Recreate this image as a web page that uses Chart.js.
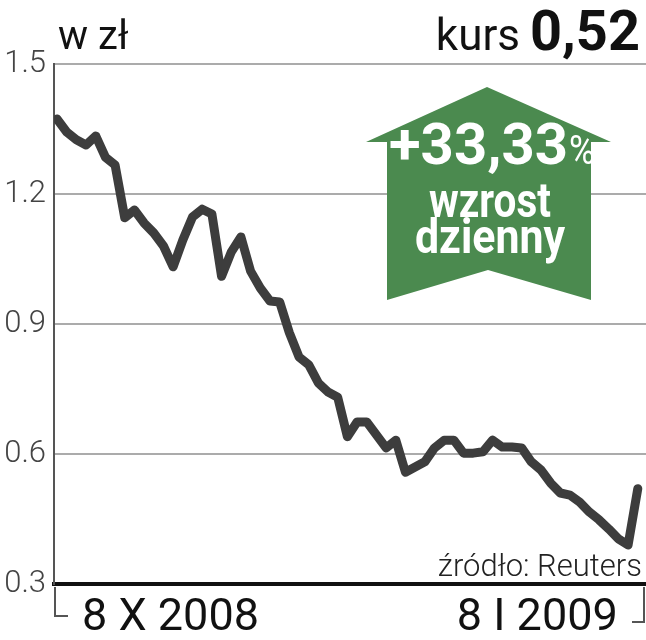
<!DOCTYPE html>
<html>
<head>
<meta charset="utf-8">
<script src="https://cdn.jsdelivr.net/npm/chart.js@4"></script>
<style>
  html, body { margin: 0; padding: 0; background: #fff; }
  #wrap { width: 646px; height: 640px; }
</style>
</head>
<body>
<div id="wrap"><canvas id="chart" width="646" height="640"></canvas></div>
<script>
// ----- Dane -----
const values = [
  1.373, 1.343, 1.325, 1.313, 1.334, 1.285, 1.267, 1.145, 1.163, 1.133,
  1.110, 1.080, 1.032, 1.094, 1.147, 1.165, 1.154, 1.010, 1.066, 1.101,
  1.022, 0.983, 0.953, 0.951, 0.880, 0.824, 0.806, 0.764, 0.743, 0.731,
  0.640, 0.674, 0.674, 0.644, 0.614, 0.632, 0.558, 0.570, 0.582, 0.614,
  0.632, 0.632, 0.602, 0.602, 0.605, 0.632, 0.616, 0.616, 0.614, 0.582,
  0.563, 0.533, 0.510, 0.505, 0.489, 0.466, 0.448, 0.427, 0.404, 0.390,
  0.520
];
const yTicks = [0.3, 0.6, 0.9, 1.2, 1.5];
const dateLabels = ['8 X 2008', '8 I 2009'];
const unitLabel = 'w zł';
const priceLabel = 'kurs';
const priceValue = '0,52';
const changeValue = '+33,33';
const changeText = ['wzrost', 'dzienny'];
const sourceText = 'źródło: Reuters';

const FONT = 'Roboto, "Liberation Sans", sans-serif';

// texte avec condensation horizontale optionnelle
function txt(ctx, s, x, y, font, color, align, maxW) {
  ctx.font = font;
  ctx.fillStyle = color;
  ctx.textAlign = align;
  ctx.textBaseline = 'alphabetic';
  if (maxW) ctx.fillText(s, x, y, maxW); else ctx.fillText(s, x, y);
}

const decor = {
  id: 'decor',
  afterDraw(chart) {
    const ctx = chart.ctx;
    const xs = chart.scales.x;
    const x0 = xs.getPixelForValue(0);
    const x1 = xs.getPixelForValue(values.length - 1);
    const left = chart.chartArea.left;
    const bottom = chart.chartArea.bottom;
    ctx.save();

    // titres
    txt(ctx, unitLabel, 58, 49, '400 40px ' + FONT, '#111', 'left');
    txt(ctx, priceValue, 640, 50, '700 56px ' + FONT, '#111', 'right', 110);
    txt(ctx, priceLabel, 520, 50, '400 44px ' + FONT, '#111', 'right', 86);

    // flèche verte
    ctx.fillStyle = '#4b8a4f';
    ctx.beginPath();
    ctx.moveTo(487, 87);
    ctx.lineTo(611, 142);
    ctx.lineTo(591, 142);
    ctx.lineTo(591, 300);
    ctx.lineTo(488, 270);
    ctx.lineTo(387, 300);
    ctx.lineTo(387, 142);
    ctx.lineTo(366, 142);
    ctx.closePath();
    ctx.fill();

    txt(ctx, changeValue, 568, 164, '700 58px ' + FONT, '#fff', 'right', 182);
    txt(ctx, '%', 569, 164, '400 40px ' + FONT, '#fff', 'left', 26);
    txt(ctx, changeText[0], 490, 217, '700 48px ' + FONT, '#fff', 'center', 122);
    txt(ctx, changeText[1], 490, 253, '700 48px ' + FONT, '#fff', 'center', 150);

    // source
    txt(ctx, sourceText, 642, 576, '300 31px ' + FONT, '#222', 'right');

    // dates + crochets
    ctx.strokeStyle = '#555';
    ctx.lineWidth = 2;
    ctx.beginPath();
    ctx.moveTo(left + 1, bottom + 3);
    ctx.lineTo(left + 1, bottom + 32);
    ctx.lineTo(left + 14, bottom + 32);
    ctx.moveTo(644, bottom + 3);
    ctx.lineTo(644, bottom + 38);
    ctx.lineTo(632, bottom + 38);
    ctx.stroke();
    txt(ctx, dateLabels[0], x0 + 25, 630, '400 45px ' + FONT, '#111', 'left');
    txt(ctx, dateLabels[1], x1 - 20, 630, '400 45px ' + FONT, '#111', 'right');

    ctx.restore();
  }
};

const ctx = document.getElementById('chart').getContext('2d');
new Chart(ctx, {
  type: 'line',
  data: {
    datasets: [{
      data: values.map((v, i) => ({ x: i, y: v })),
      borderColor: '#3d3d3d',
      borderWidth: 9,
      borderJoinStyle: 'round',
      borderCapStyle: 'round',
      pointRadius: 0,
      tension: 0,
      fill: false
    }]
  },
  options: {
    responsive: false,
    animation: false,
    devicePixelRatio: 1,
    layout: { padding: { top: 64, bottom: 56, left: 0, right: 0 } },
    plugins: { legend: { display: false }, tooltip: { enabled: false } },
    scales: {
      x: {
        type: 'linear',
        min: -0.31,
        max: 60.85,
        ticks: { display: false },
        grid: { display: false, drawTicks: false },
        border: { display: true, color: '#111', width: 4 }
      },
      y: {
        min: 0.3,
        max: 1.5,
        afterBuildTicks: (s) => { s.ticks = yTicks.map(v => ({ value: v })); },
        afterFit: (s) => { s.width = 54; },
        ticks: {
          padding: 8,
          color: '#444',
          font: { family: FONT, size: 31, weight: '300' },
          callback: (v) => Number(v).toFixed(1)
        },
        grid: {
          drawTicks: false,
          lineWidth: 2,
          color: (c) => (c.tick && c.tick.value === 0.3) ? 'rgba(0,0,0,0)' : '#ababab'
        },
        border: { display: true, color: '#555', width: 2 }
      }
    }
  },
  plugins: [decor]
});
</script>
</body>
</html>
